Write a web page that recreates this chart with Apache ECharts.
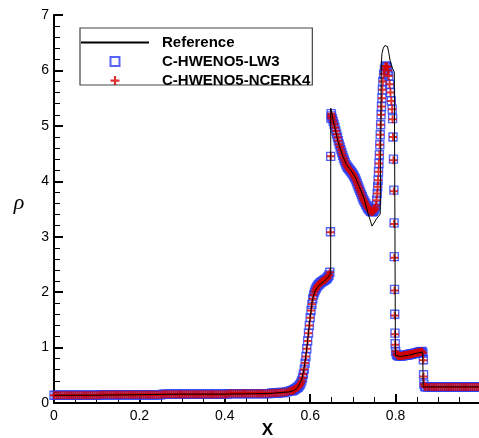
<!DOCTYPE html>
<html>
<head>
<meta charset="utf-8">
<script src="https://cdn.jsdelivr.net/npm/echarts@6/dist/echarts.min.js"></script>
<style>
  html, body { margin: 0; padding: 0; background: #fff; }
  #chart { width: 479px; height: 438px; }
</style>
</head>
<body>
<div id="chart"></div>
<script>
// Density profile rho(x): high-resolution reference and two numerical schemes.

const seriesNames = ['Reference', 'C-HWENO5-LW3', 'C-HWENO5-NCERK4'];

const xTickValues = [0, 0.2, 0.4, 0.6, 0.8];
const xTickLabels = ['0', '0.2', '0.4', '0.6', '0.8'];
const yTickValues = [0, 1, 2, 3, 4, 5, 6, 7];
const yTickLabels = ['0', '1', '2', '3', '4', '5', '6', '7'];

// Reference solution
const xRef = [
  0, 0.1, 0.2, 0.3, 0.4, 0.5, 0.55, 0.56, 0.57, 0.58,
  0.585, 0.59, 0.595, 0.6, 0.605, 0.61, 0.62, 0.63, 0.64, 0.648,
  0.6481, 0.655, 0.665, 0.675, 0.685, 0.695, 0.705, 0.715, 0.725, 0.735,
  0.745, 0.755, 0.764, 0.7665, 0.768, 0.771, 0.775, 0.778, 0.781, 0.784,
  0.787, 0.792, 0.797, 0.7995, 0.7996, 0.81, 0.83, 0.85, 0.8635, 0.8645,
  0.87, 1.0
];
const rhoRef = [
  0.14, 0.14, 0.15, 0.16, 0.16, 0.17, 0.2, 0.22, 0.27, 0.42,
  0.6, 0.86, 1.2, 1.55, 1.85, 2.0, 2.12, 2.18, 2.25, 2.33,
  5.32, 5.05, 4.72, 4.48, 4.3, 4.2, 4.08, 3.9, 3.72, 3.43,
  3.19, 3.32, 3.41, 6.1, 6.3, 6.4, 6.45, 6.46, 6.43, 6.32,
  6.18, 6.05, 5.97, 5.95, 0.86, 0.84, 0.86, 0.9, 0.92, 0.29,
  0.29, 0.29
];

// Cell positions of the numerical solutions
const xNum = [
  0, 0.005, 0.01, 0.015, 0.02, 0.025, 0.03, 0.035, 0.04, 0.045,
  0.05, 0.055, 0.06, 0.065, 0.07, 0.075, 0.08, 0.085, 0.09, 0.095,
  0.1, 0.105, 0.11, 0.115, 0.12, 0.125, 0.13, 0.135, 0.14, 0.145,
  0.15, 0.155, 0.16, 0.165, 0.17, 0.175, 0.18, 0.185, 0.19, 0.195,
  0.2, 0.205, 0.21, 0.215, 0.22, 0.225, 0.23, 0.235, 0.24, 0.245,
  0.25, 0.255, 0.26, 0.265, 0.27, 0.275, 0.28, 0.285, 0.29, 0.295,
  0.3, 0.305, 0.31, 0.315, 0.32, 0.325, 0.33, 0.335, 0.34, 0.345,
  0.35, 0.355, 0.36, 0.365, 0.37, 0.375, 0.38, 0.385, 0.39, 0.395,
  0.4, 0.405, 0.41, 0.415, 0.42, 0.425, 0.43, 0.435, 0.44, 0.445,
  0.45, 0.455, 0.46, 0.465, 0.47, 0.475, 0.48, 0.485, 0.49, 0.495,
  0.5, 0.505, 0.51, 0.515, 0.52, 0.525, 0.53, 0.535, 0.54, 0.545,
  0.55, 0.555,
  0.558, 0.56, 0.562, 0.564, 0.566, 0.568, 0.57, 0.572, 0.574, 0.576,
  0.578, 0.58, 0.582, 0.584, 0.586, 0.588, 0.59, 0.592, 0.594, 0.596,
  0.598, 0.6, 0.602, 0.604, 0.606, 0.608, 0.61, 0.612, 0.614, 0.616,
  0.618, 0.62, 0.622, 0.624, 0.626, 0.628, 0.63, 0.632, 0.634, 0.636,
  0.638, 0.64, 0.642, 0.644,
  0.646, 0.6475, 0.648, 0.6485, 0.649,
  0.65, 0.652, 0.654, 0.656, 0.658, 0.66, 0.662, 0.664, 0.666, 0.668,
  0.67, 0.672, 0.674, 0.676, 0.678, 0.68, 0.682, 0.684, 0.686, 0.688,
  0.69, 0.692, 0.694, 0.696, 0.698, 0.7, 0.702, 0.704, 0.706, 0.708,
  0.71, 0.712, 0.714, 0.716, 0.718, 0.72, 0.722, 0.724, 0.726, 0.728,
  0.73, 0.732, 0.734, 0.736, 0.738, 0.74, 0.742, 0.744, 0.746, 0.748,
  0.75, 0.752, 0.754,
  0.7555, 0.757, 0.758, 0.759, 0.76, 0.761, 0.762, 0.763, 0.764, 0.765,
  0.766, 0.767, 0.768, 0.769, 0.77, 0.772, 0.774, 0.776, 0.778, 0.78,
  0.782, 0.784, 0.786, 0.788, 0.79, 0.792, 0.793, 0.794, 0.795, 0.796,
  0.7965, 0.797, 0.7975, 0.798, 0.7985, 0.799,
  0.8, 0.802, 0.804, 0.806, 0.808, 0.81, 0.812, 0.814, 0.816, 0.818,
  0.82, 0.822, 0.824, 0.826, 0.828, 0.83, 0.832, 0.834, 0.836, 0.838,
  0.84, 0.842, 0.844, 0.846, 0.848, 0.85, 0.852, 0.854, 0.856, 0.858,
  0.86, 0.862, 0.864,
  0.865, 0.8655, 0.866, 0.868,
  0.87, 0.875, 0.88, 0.885, 0.89, 0.895, 0.9, 0.905, 0.91, 0.915,
  0.92, 0.925, 0.93, 0.935, 0.94, 0.945, 0.95, 0.955, 0.96, 0.965,
  0.97, 0.975, 0.98, 0.985, 0.99, 0.995, 1.0
];

const rhoLW3 = [
  0.14, 0.14, 0.14, 0.14, 0.14, 0.14, 0.14, 0.14, 0.14, 0.14,
  0.14, 0.14, 0.14, 0.14, 0.14, 0.14, 0.14, 0.14, 0.14, 0.14,
  0.14, 0.14, 0.15, 0.15, 0.15, 0.15, 0.15, 0.15, 0.15, 0.15,
  0.15, 0.15, 0.15, 0.15, 0.15, 0.15, 0.15, 0.15, 0.15, 0.15,
  0.15, 0.15, 0.15, 0.15, 0.15, 0.15, 0.15, 0.15, 0.15, 0.15,
  0.15, 0.16, 0.16, 0.16, 0.16, 0.16, 0.16, 0.16, 0.16, 0.16,
  0.16, 0.16, 0.16, 0.16, 0.16, 0.16, 0.16, 0.16, 0.16, 0.16,
  0.16, 0.16, 0.16, 0.16, 0.16, 0.16, 0.16, 0.16, 0.16, 0.16,
  0.16, 0.16, 0.17, 0.17, 0.17, 0.17, 0.17, 0.17, 0.17, 0.17,
  0.17, 0.17, 0.17, 0.17, 0.17, 0.17, 0.17, 0.17, 0.17, 0.17,
  0.17, 0.17, 0.18, 0.18, 0.18, 0.18, 0.19, 0.19, 0.19, 0.2,
  0.21, 0.22,
  0.22, 0.23, 0.24, 0.25, 0.26, 0.27, 0.28, 0.29, 0.31, 0.33,
  0.36, 0.4, 0.45, 0.52, 0.61, 0.72, 0.84, 0.98, 1.12, 1.26,
  1.4, 1.54, 1.67, 1.78, 1.88, 1.95, 2.0, 2.04, 2.07, 2.1,
  2.12, 2.14, 2.15, 2.17, 2.18, 2.19, 2.2, 2.21, 2.22, 2.23,
  2.24, 2.26, 2.28, 2.31,
  2.36, 3.09, 4.45, 5.14, 5.22,
  5.18, 5.13, 5.08, 5.03, 4.97, 4.91, 4.85, 4.79, 4.73, 4.67,
  4.62, 4.57, 4.52, 4.47, 4.42, 4.38, 4.34, 4.3, 4.27, 4.25,
  4.23, 4.21, 4.19, 4.17, 4.15, 4.13, 4.1, 4.07, 4.04, 4.0,
  3.96, 3.92, 3.88, 3.84, 3.8, 3.76, 3.72, 3.68, 3.65, 3.62,
  3.59, 3.56, 3.53, 3.51, 3.49, 3.47, 3.46, 3.45, 3.45, 3.46,
  3.48, 3.51, 3.56,
  3.66, 3.78, 3.9, 4.02, 4.17, 4.32, 4.48, 4.66, 4.84, 5.02,
  5.2, 5.35, 5.5, 5.65, 5.8, 5.93, 6.02, 6.07, 6.08, 6.06,
  6.0, 5.9, 5.75, 5.6, 5.45, 5.3, 5.13, 4.8, 4.4, 3.84,
  3.25, 2.64, 2.05, 1.6, 1.26, 1.07,
  0.93, 0.88, 0.86, 0.85, 0.85, 0.85, 0.85, 0.85, 0.85, 0.855,
  0.86, 0.86, 0.86, 0.865, 0.87, 0.87, 0.875, 0.88, 0.88, 0.885,
  0.89, 0.89, 0.895, 0.9, 0.9, 0.905, 0.91, 0.91, 0.915, 0.92,
  0.925, 0.93, 0.9,
  0.78, 0.51, 0.34, 0.3,
  0.29, 0.29, 0.29, 0.29, 0.29, 0.29, 0.29, 0.29, 0.29, 0.29,
  0.29, 0.29, 0.29, 0.29, 0.29, 0.29, 0.29, 0.29, 0.29, 0.29,
  0.29, 0.29, 0.29, 0.29, 0.29, 0.29, 0.29
];

const rhoNCERK4 = [
  0.14, 0.14, 0.14, 0.14, 0.14, 0.14, 0.14, 0.14, 0.14, 0.14,
  0.14, 0.14, 0.14, 0.14, 0.14, 0.14, 0.14, 0.14, 0.14, 0.14,
  0.14, 0.14, 0.15, 0.15, 0.15, 0.15, 0.15, 0.15, 0.15, 0.15,
  0.15, 0.15, 0.15, 0.15, 0.15, 0.15, 0.15, 0.15, 0.15, 0.15,
  0.15, 0.15, 0.15, 0.15, 0.15, 0.15, 0.15, 0.15, 0.15, 0.15,
  0.15, 0.16, 0.16, 0.16, 0.16, 0.16, 0.16, 0.16, 0.16, 0.16,
  0.16, 0.16, 0.16, 0.16, 0.16, 0.16, 0.16, 0.16, 0.16, 0.16,
  0.16, 0.16, 0.16, 0.16, 0.16, 0.16, 0.16, 0.16, 0.16, 0.16,
  0.16, 0.16, 0.17, 0.17, 0.17, 0.17, 0.17, 0.17, 0.17, 0.17,
  0.17, 0.17, 0.17, 0.17, 0.17, 0.17, 0.17, 0.17, 0.17, 0.17,
  0.17, 0.17, 0.18, 0.18, 0.18, 0.18, 0.19, 0.19, 0.19, 0.2,
  0.21, 0.22,
  0.22, 0.23, 0.24, 0.25, 0.26, 0.27, 0.28, 0.29, 0.31, 0.33,
  0.36, 0.4, 0.45, 0.52, 0.61, 0.72, 0.84, 0.98, 1.12, 1.26,
  1.4, 1.54, 1.67, 1.78, 1.88, 1.95, 2.0, 2.04, 2.07, 2.1,
  2.12, 2.14, 2.15, 2.17, 2.18, 2.19, 2.2, 2.21, 2.22, 2.23,
  2.24, 2.26, 2.28, 2.31,
  2.36, 3.08, 4.45, 5.15, 5.22,
  5.18, 5.13, 5.08, 5.03, 4.97, 4.91, 4.85, 4.79, 4.73, 4.67,
  4.62, 4.57, 4.52, 4.47, 4.42, 4.38, 4.34, 4.3, 4.27, 4.25,
  4.23, 4.21, 4.19, 4.17, 4.15, 4.13, 4.1, 4.07, 4.04, 4.0,
  3.96, 3.92, 3.88, 3.84, 3.8, 3.76, 3.72, 3.68, 3.65, 3.62,
  3.59, 3.56, 3.53, 3.51, 3.49, 3.47, 3.46, 3.45, 3.45, 3.46,
  3.48, 3.51, 3.56,
  3.66, 3.78, 3.9, 4.02, 4.17, 4.32, 4.48, 4.66, 4.84, 5.02,
  5.2, 5.35, 5.5, 5.65, 5.8, 5.93, 6.02, 6.07, 6.08, 6.06,
  6.0, 5.9, 5.75, 5.6, 5.45, 5.3, 5.12, 4.8, 4.38, 3.82,
  3.23, 2.62, 2.03, 1.58, 1.24, 1.05,
  0.93, 0.88, 0.86, 0.85, 0.85, 0.85, 0.85, 0.85, 0.85, 0.855,
  0.86, 0.86, 0.86, 0.865, 0.87, 0.87, 0.875, 0.88, 0.88, 0.885,
  0.89, 0.89, 0.895, 0.9, 0.9, 0.905, 0.91, 0.91, 0.915, 0.92,
  0.925, 0.93, 0.9,
  0.77, 0.48, 0.34, 0.3,
  0.29, 0.29, 0.29, 0.29, 0.29, 0.29, 0.29, 0.29, 0.29, 0.29,
  0.29, 0.29, 0.29, 0.29, 0.29, 0.29, 0.29, 0.29, 0.29, 0.29,
  0.29, 0.29, 0.29, 0.29, 0.29, 0.29, 0.29
];

const pairs = (xs, ys) => xs.map((x, i) => [x, ys[i]]);
const labelFor = (values, labels) => (v) => {
  const i = values.findIndex(t => Math.abs(t - v) < 1e-9);
  return i >= 0 ? labels[i] : '';
};

const SQUARE = 'path://M0,0H10V10H0Z';
const PLUS = 'path://M3,0H5V3H8V5H5V8H3V5H0V3H3Z';
const FONT = 'Liberation Sans, Arial, Helvetica, sans-serif';

const axisCommon = {
  axisLine: { show: true, onZero: false, lineStyle: { color: '#000', width: 2 } },
  axisTick: { show: true, inside: true, length: 9, lineStyle: { color: '#000', width: 2 } },
  splitLine: { show: false },
  axisLabel: { color: '#000', fontSize: 14, fontFamily: FONT }
};

const chart = echarts.init(document.getElementById('chart'), null, { renderer: 'canvas' });
chart.setOption({
  animation: false,
  backgroundColor: '#fff',
  grid: { left: 54, top: 15, width: 427, height: 388, containLabel: false, outerBoundsMode: 'none' },
  xAxis: {
    type: 'value', min: 0, max: 1, interval: 0.2,
    ...axisCommon,
    minorTick: { show: true, splitNumber: 4, length: 6, lineStyle: { color: '#000', width: 1 } },
    axisLabel: { ...axisCommon.axisLabel, margin: 6, showMaxLabel: false,
      formatter: labelFor(xTickValues, xTickLabels) },
    name: 'X', nameLocation: 'middle', nameGap: 19, nameMoveOverlap: false,
    nameTextStyle: { color: '#000', fontSize: 17, fontWeight: 'bold', fontFamily: FONT,
      verticalAlign: 'top' }
  },
  yAxis: {
    type: 'value', min: 0, max: 7, interval: 1,
    ...axisCommon,
    minorTick: { show: true, splitNumber: 5, length: 6, lineStyle: { color: '#000', width: 1 } },
    axisLabel: { ...axisCommon.axisLabel, margin: 5,
      formatter: labelFor(yTickValues, yTickLabels) },
    name: 'ρ', nameLocation: 'middle', nameRotate: 0, nameGap: 35, nameMoveOverlap: false,
    nameTextStyle: { color: '#000', fontSize: 22, fontStyle: 'italic',
      fontFamily: 'Liberation Serif, Times New Roman, serif', align: 'center', verticalAlign: 'bottom',
      lineHeight: 12 }
  },
  legend: {
    orient: 'vertical', left: 80, top: 28,
    padding: [7, 2, -3, 0], itemGap: 4, itemWidth: 68, itemHeight: 9,
    borderColor: '#444', borderWidth: 1.2, backgroundColor: '#fff',
    selectedMode: false,
    textStyle: { color: '#000', fontSize: 15, fontWeight: 'bold', fontFamily: FONT,
      padding: [0, 0, 0, 8] },
    data: [
      { name: seriesNames[0], itemStyle: { opacity: 0 } },
      { name: seriesNames[1] },
      { name: seriesNames[2] }
    ]
  },
  series: [
    {
      name: seriesNames[0], type: 'line', data: pairs(xRef, rhoRef),
      symbol: 'none', showSymbol: false, smooth: false,
      lineStyle: { color: '#000', width: 1 }, itemStyle: { color: '#000' }
    },
    {
      name: seriesNames[1], type: 'scatter', data: pairs(xNum, rhoLW3),
      symbol: SQUARE, symbolSize: 8,
      itemStyle: { color: 'rgba(0,0,0,0)', borderColor: '#2b3cf5', borderWidth: 1.4 }
    },
    {
      name: seriesNames[2], type: 'scatter', data: pairs(xNum, rhoNCERK4),
      symbol: PLUS, symbolSize: 8,
      itemStyle: { color: '#d40000' }
    }
  ]
});
</script>
</body>
</html>
